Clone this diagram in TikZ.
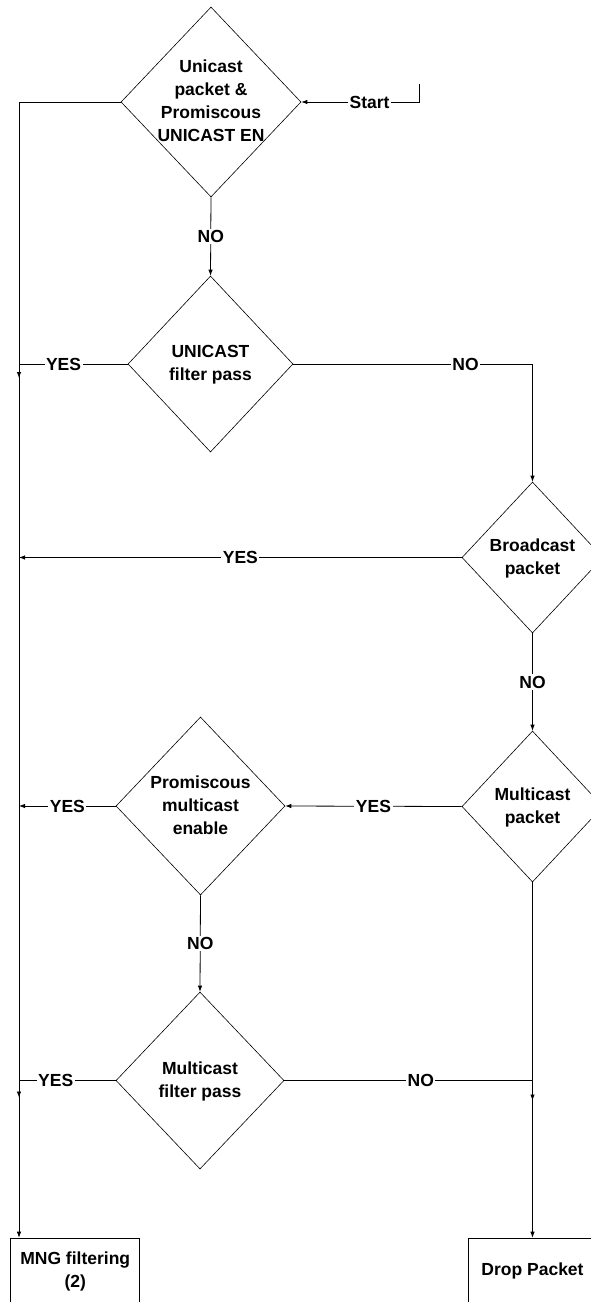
\documentclass[tikz,border=0pt]{standalone}
\usepackage{fontspec}
\setmainfont{Liberation Sans}
\usetikzlibrary{shapes.geometric, arrows.meta}
% text in a decision box, kept from growing the shape
\newcommand{\dtext}[1]{\smash{\makebox[0pt]{\raisebox{-5pt}{\begin{tabular}{@{}c@{}}#1\end{tabular}}}}}

\begin{document}
\begin{tikzpicture}[x=1pt, y=-1pt, line width=0.8pt,
  font=\fontsize{17.5}{23}\selectfont\bfseries,
  dec/.style n args={2}{diamond, draw, line width=0.6pt, inner sep=0pt, minimum width=#1, minimum height=#2},
  box/.style={rectangle, draw, line width=0.6pt, align=center, minimum width=129pt, minimum height=66pt, inner sep=0pt},
  lbl/.style={fill=white, inner sep=1.5pt},
  arr/.style={-{Latex[length=6pt,width=4.5pt]}}]
\useasboundingbox (0,0) rectangle (590,1302);

% Decisoes
\node[dec={180pt}{190pt}] (d1) at (211,102) {\dtext{Unicast\\packet \&\\Promiscous\\UNICAST EN}};
\node[dec={165pt}{176pt}] (d2) at (210.5,364) {\dtext{UNICAST\\filter pass}};
\node[dec={141pt}{151pt}] (d3) at (532.5,557.5) {\dtext{Broadcast\\packet}};
\node[dec={141pt}{151pt}] (d4) at (532.5,806.5) {\dtext{Multicast\\packet}};
\node[dec={169pt}{178pt}] (d5) at (200.5,806) {\dtext{Promiscous\\multicast\\enable}};
\node[dec={168pt}{177pt}] (d6) at (200,1080.5) {\dtext{Multicast\\filter pass}};

% Saidas
\node[box] (mng) at (75.25,1271) {MNG filtering\\(2)};
\node[box] (drop) at (532.5,1271) {Drop Packet};

\coordinate (trunk) at (19,102);
\coordinate (st) at (419,84);

% Ligacoes
\draw[arr] (st) |- node[lbl,pos=.71] {Start} (d1.east);
\draw[arr] (d1.west) -- (trunk) -- (trunk |- mng.north);
\draw[arr] (d1.south) -- node[lbl] {NO} (d2.north);
\draw[arr] (d2.west) -- node[lbl,pos=.59] {YES} (d2.west -| trunk) -- ++(0,14);
\draw[arr] (d2.east) -| node[lbl,pos=.36] {NO} (d3.north);
\draw[arr] (d3.west) -- node[lbl] {YES} (d3.west -| trunk);
\draw[arr] (d3.south) -- node[lbl] {NO} (d4.north);
\draw[arr] (d4.west) -- node[lbl] {YES} (d5.east);
\draw[arr] (d5.west) -- node[lbl] {YES} (d5.west -| trunk);
\draw[arr] (d5.south) -- node[lbl] {NO} (d6.north);
\draw[arr] (d6.west) -- node[lbl,pos=.62] {YES} (d6.west -| trunk) -- ++(0,17);
\draw[arr] (d6.east) -- node[lbl,pos=.55] {NO} (d6.east -| d4.south) -- ++(0,20);
\draw[arr] (d4.south) -- (drop.north);
\end{tikzpicture}
\end{document}
